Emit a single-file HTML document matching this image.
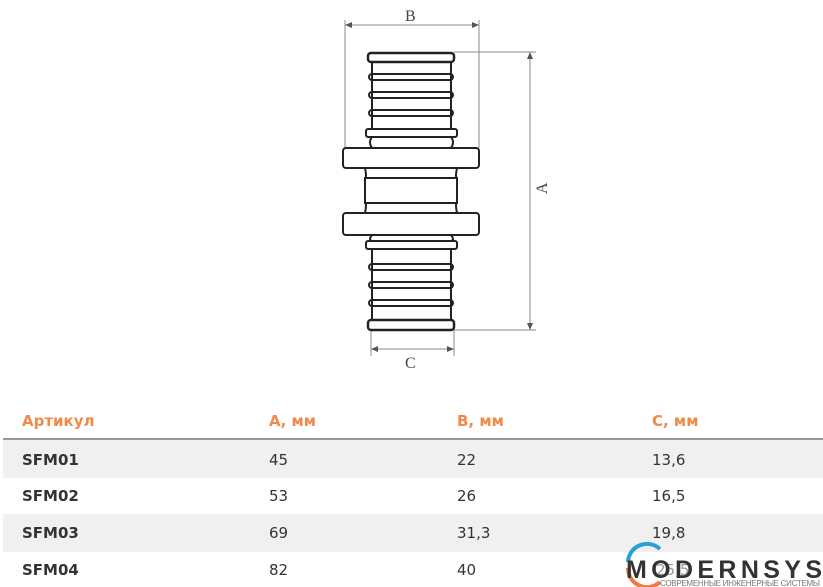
<!DOCTYPE html>
<html><head><meta charset="utf-8"><style>
body{margin:0;width:823px;height:587px;background:#fff;overflow:hidden;font-family:"DejaVu Sans","Liberation Sans",sans-serif;position:relative}
.t{position:absolute;font-size:15px;font-weight:bold;color:#333}
.h{color:#f08a48}
.row{position:absolute;left:3px;width:820px}
</style></head><body>
<svg width="823" height="400" style="position:absolute;left:0;top:0" fill="none" stroke="#222">
<g stroke="#888" stroke-width="1">
<line x1="345" y1="20" x2="345" y2="148"/><line x1="479" y1="20" x2="479" y2="148"/>
<line x1="345" y1="25" x2="479" y2="25"/>
<line x1="454" y1="52" x2="536" y2="52"/><line x1="454" y1="330" x2="536" y2="330"/>
<line x1="530" y1="52" x2="530" y2="330"/>
<line x1="371" y1="330" x2="371" y2="356"/><line x1="454" y1="330" x2="454" y2="356"/>
<line x1="371" y1="349" x2="454" y2="349"/>
</g>
<g fill="#555" stroke="none">
<path d="M345 25l7-3v6z"/><path d="M479 25l-7-3v6z"/>
<path d="M530 52l-3 7h6z"/><path d="M530 330l-3-7h6z"/>
<path d="M371 349l7-3v6z"/><path d="M454 349l-7-3v6z"/>
</g>
<g stroke-width="2">
<line x1="372" y1="61" x2="372" y2="129"/><line x1="451" y1="61" x2="451" y2="129"/>
<line x1="372" y1="249" x2="372" y2="320"/><line x1="451" y1="249" x2="451" y2="320"/>
<rect x="368" y="53" width="86" height="9" rx="3" stroke-width="2.5"/>
<rect x="369" y="74" width="84" height="6" rx="3"/>
<rect x="369" y="92" width="84" height="6" rx="3"/>
<rect x="369" y="110" width="84" height="6" rx="3"/>
<rect x="366" y="129" width="91" height="8" rx="2"/>
<path d="M372 137q-4 5 0 11M451 137q4 5 0 11"/>
<rect x="343" y="148" width="136" height="20" rx="3"/>
<path d="M365 168q2 10 0 10v25q2 0 0 10M457 168q-2 10 0 10v25q-2 0 0 10"/>
<line x1="365" y1="178" x2="457" y2="178"/><line x1="365" y1="203" x2="457" y2="203"/>
<rect x="343" y="213" width="136" height="22" rx="3"/>
<path d="M372 235q-4 5 0 6M451 235q4 5 0 6"/>
<rect x="366" y="241" width="91" height="8" rx="2"/>
<rect x="369" y="264" width="84" height="6" rx="3"/>
<rect x="369" y="282" width="84" height="6" rx="3"/>
<rect x="369" y="300" width="84" height="6" rx="3"/>
<rect x="368" y="320" width="86" height="10" rx="3" stroke-width="2.5"/>
</g>
<g fill="#444" stroke="none" font-family="Liberation Serif,serif" font-size="16">
<text x="405" y="21">B</text>
<text x="405" y="368">C</text>
<text transform="translate(547,194) rotate(-90)">A</text>
</g>
</svg>
<div style="position:absolute;left:3px;top:438px;width:820px;height:2px;background:#999"></div>
<div class="row" style="top:440px;height:38px;background:#f0f0f0"></div>
<div class="row" style="top:514px;height:38px;background:#f0f0f0"></div>
<div class="t h" style="left:22px;top:412px">Артикул</div>
<div class="t h" style="left:269px;top:412px">А, мм</div>
<div class="t h" style="left:457px;top:412px">В, мм</div>
<div class="t h" style="left:652px;top:412px">С, мм</div>
<div class="t" style="left:22px;top:451px">SFM01</div><div class="t" style="left:269px;top:451px;font-weight:normal">45</div><div class="t" style="left:457px;top:451px;font-weight:normal">22</div><div class="t" style="left:652px;top:451px;font-weight:normal">13,6</div>
<div class="t" style="left:22px;top:487px">SFM02</div><div class="t" style="left:269px;top:487px;font-weight:normal">53</div><div class="t" style="left:457px;top:487px;font-weight:normal">26</div><div class="t" style="left:652px;top:487px;font-weight:normal">16,5</div>
<div class="t" style="left:22px;top:524px">SFM03</div><div class="t" style="left:269px;top:524px;font-weight:normal">69</div><div class="t" style="left:457px;top:524px;font-weight:normal">31,3</div><div class="t" style="left:652px;top:524px;font-weight:normal">19,8</div>
<div class="t" style="left:22px;top:561px">SFM04</div><div class="t" style="left:269px;top:561px;font-weight:normal">82</div><div class="t" style="left:457px;top:561px;font-weight:normal">40</div><div class="t" style="left:656px;top:561px;font-weight:normal;color:#999">25,5</div>
<svg width="823" height="587" style="position:absolute;left:0;top:0">
<path d="M628 562a19 19 0 0 1 32-13" stroke="#2a9fd8" stroke-width="4" fill="none"/>
<path d="M628 568a19 19 0 0 0 32 14" stroke="#ef7c3a" stroke-width="4" fill="none"/>
<text x="626" y="578" font-family="Liberation Sans,sans-serif" font-weight="bold" font-size="25" fill="#333" textLength="196">MODERNSYS</text>
<text x="660" y="586" font-family="Liberation Sans,sans-serif" font-size="8" fill="#777" textLength="160">СОВРЕМЕННЫЕ ИНЖЕНЕРНЫЕ СИСТЕМЫ</text>
</svg>
</body></html>
